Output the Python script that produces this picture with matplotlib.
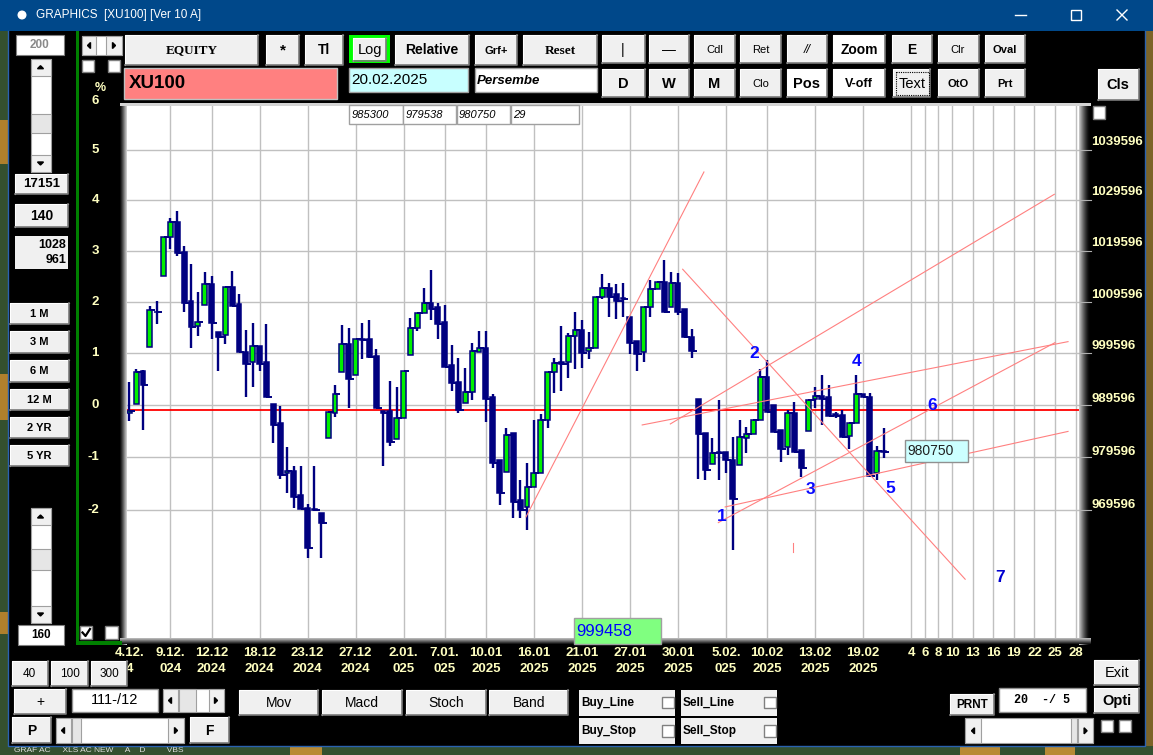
import matplotlib
matplotlib.use("Agg")
import numpy as np
import matplotlib.pyplot as plt
from matplotlib.patches import Rectangle, Circle, Polygon
from matplotlib import transforms
from matplotlib import font_manager as fm

# XU100 bars (two bars per session day), 04.12.2024 - 20.02.2025
opens = [988120, 989710, 996110, 1000700, 1007450, 1014430, 1021930, 1024990, 1019100, 1009510,
         1004750, 1008680, 1012760, 1003480, 1002900, 1012170, 1008930, 999630, 997720, 1000900,
         997720, 989770, 986120, 976700, 977190, 972580, 970170, 969980, 969240, 983280,
         988010, 995920, 1001170, 995290, 1002190, 1002250, 998980, 988500, 988500, 983090,
         987060, 999110, 1004250, 1007140, 1009070, 1008300, 1005410, 997200, 994010, 989900,
         992100, 999740, 1000400, 991150, 979200, 976890, 984230, 971710, 970350, 974080,
         976700, 986740, 995810, 997720, 997720, 1002770, 1003860, 999880, 1000510, 1010230,
         1011980, 1010810, 1010030, 1006490, 1001800, 999630, 1008410, 1011780, 1013260, 1008300,
         1012950, 1007970, 1002630, 990660, 984340, 978450, 980750, 980750, 979200, 978260,
         983280, 984090, 986740, 994970, 989580, 984850, 981580, 988120, 981070, 984720,
         990660, 991290, 991040, 987880, 987690, 983710, 986120, 991610, 991040, 976700,
         980940]
highs = [994010, 996440, 996250, 1008550, 1009510, 1022040, 1025660, 1027090, 1020220, 1016710,
         1011260, 1015150, 1014370, 1003480, 1012170, 1015350, 1010870, 1003920, 1005270, 1000900,
         1005080, 989770, 989390, 981630, 978130, 978130, 970960, 978130, 969240, 988310,
         993380, 1004890, 1004250, 1002130, 1005210, 1005850, 1000260, 988500, 994150, 993060,
         996060, 1006180, 1007140, 1011980, 1015540, 1009070, 1008740, 1001030, 998480, 996570,
         1001360, 1003730, 1003730, 991610, 979200, 985170, 984230, 975450, 978580, 986740,
         987820, 995810, 998600, 1004690, 1003290, 1007450, 1005850, 1003590, 1010230, 1014760,
         1012950, 1012820, 1012950, 1006490, 1001800, 1008410, 1013590, 1013260, 1017490, 1015090,
         1014900, 1007970, 1004120, 990660, 984340, 983280, 990520, 980750, 983580, 986740,
         985360, 986740, 996380, 998160, 989580, 984850, 988630, 990200, 981070, 990520,
         993060, 995290, 993380, 988250, 988630, 986120, 995290, 991610, 991800, 981820,
         985300]
lows = [986610, 989710, 984850, 1000700, 1005080, 1014430, 1019690, 1018260, 1007450, 1000510,
        1002820, 1008680, 1002250, 996110, 1001280, 1008550, 999630, 991150, 993060, 996110,
        991150, 982450, 975580, 973070, 970170, 969980, 960910, 969720, 960960, 983280,
        987360, 995920, 988950, 995290, 998290, 998480, 988950, 978130, 981880, 983090,
        987060, 999110, 1003790, 1007140, 1005850, 1002190, 996880, 992300, 988120, 989900,
        990520, 999740, 986420, 977640, 970780, 976890, 968310, 968310, 966140, 974080,
        976700, 985170, 991800, 992240, 994660, 996380, 996570, 998350, 1000510, 1009840,
        1006490, 1006040, 1006490, 999300, 996110, 997720, 1006370, 1011780, 1007330, 1008300,
        1006810, 1002320, 998480, 975580, 975450, 978450, 975450, 976700, 962430, 978260,
        980450, 984090, 986740, 988310, 984530, 978880, 980130, 980750, 975960, 984720,
        988950, 985790, 987500, 987120, 983580, 981200, 986120, 991040, 975960, 975450,
        979538]
closes = [988500, 995920, 993330, 1007720, 1007400, 1022040, 1024990, 1018790, 1009070, 1004560,
          1005520, 1012760, 1005210, 1002520, 1012170, 1008550, 999630, 997390, 1000900, 997390,
          991150, 985740, 976330, 977190, 972210, 969980, 962750, 969850, 967380, 988310,
          991610, 1001170, 994470, 1002130, 1001940, 998790, 988950, 988010, 982640, 987060,
          996060, 1004370, 1007140, 1009070, 1007910, 1005020, 996880, 993710, 988630, 992100,
          999880, 1000400, 990660, 978690, 973070, 983900, 971390, 969850, 974080, 976700,
          986740, 995810, 997530, 997340, 1002770, 1003860, 999440, 1000510, 1010230, 1011980,
          1010340, 1009510, 1009900, 1001360, 999250, 1008410, 1011780, 1013260, 1007450, 1013070,
          1007450, 1002630, 999930, 984090, 977320, 980560, 980560, 979200, 971840, 983470,
          984090, 986740, 994970, 988310, 984530, 981200, 988120, 980750, 977640, 990520,
          991290, 990660, 987500, 987500, 983580, 986120, 991610, 991040, 976200, 980940,
          980750]

# x axis: bar slots carrying a date label
date_idx = [0, 6, 12, 19, 26, 33, 40, 46, 52, 59, 66, 73, 80, 87, 93, 100, 107]
date_top = ['4.12.', '9.12.', '12.12', '18.12', '23.12', '27.12', '2.01.', '7.01.', '10.01',
            '16.01', '21.01', '27.01', '30.01', '5.02.', '10.02', '13.02', '19.02']
date_bottom = ['4', '024', '2024', '2024', '2024', '2024', '025', '025', '2025',
               '2025', '2025', '2025', '2025', '025', '2025', '2025', '2025']
# empty future area: one slot per calendar day after the last bar
future_days = [4, 6, 8, 10, 13, 16, 19, 22, 25, 28]
future_start = 110

base_price = 989596          # the 0 % level
pct_levels = [-2, -1, 0, 1, 2, 3, 4, 5, 6]
price_labels = [969596, 979596, 989596, 999596, 1009596, 1019596, 1029596, 1039596]
ref_level = 988600           # red horizontal line

last_vals = ['985300', '979538', '980750', '29']
cursor_val = '999458'
last_close = '980750'

# hand drawn trend lines (bar slot, price)
trend_lines = [((57.85, 968550), (83.8, 1034800)),
               ((80.7, 1015680), (121.9, 957050)),
               ((85.9, 967500), (135.0, 1001480)),
               ((86.9, 970410), (136.9, 984570)),
               ((78.9, 985980), (134.9, 1030380)),
               ((74.8, 985790), (136.9, 1001670)),
               ((96.85, 963730), (96.85, 962070))]
wave_marks = [('1', 86.4, 968610), ('2', 91.1, 999440), ('3', 99.3, 973580), ('4', 106.0, 997830),
              ('5', 111.0, 973900), ('6', 117.1, 989390), ('7', 127.0, 957420)]

names = {f.name for f in fm.fontManager.ttflist}
SANS = 'Liberation Sans' if 'Liberation Sans' in names else 'DejaVu Sans'
SERIF = 'Liberation Serif' if 'Liberation Serif' in names else 'DejaVu Serif'
MONO = 'Liberation Mono' if 'Liberation Mono' in names else 'DejaVu Sans Mono'
plt.rcParams['font.family'] = [SANS, 'DejaVu Sans']

NAVY = '#000080'
GREEN = '#00f000'
GRID = '#c0c0c0'
TICK = '#ffffc0'
BTN = '#f0f0f0'

W, H = 1153, 755
fig = plt.figure(figsize=(W / 100, H / 100), dpi=100)
fig.patch.set_facecolor('black')
bg = fig.add_axes([0, 0, 1, 1], zorder=0)
ax = fig.add_axes([127 / W, 1 - 638 / H, 952 / W, 532 / H], zorder=1)
ov = fig.add_axes([0, 0, 1, 1], zorder=2)
for a in (bg, ov):
    a.set_xlim(0, W)
    a.set_ylim(H, 0)
    a.axis('off')


def rect(x0, y0, x1, y1, fc, ec='none', lw=0.8, z=2, a=ov):
    a.add_patch(Rectangle((x0, y0), x1 - x0, y1 - y0, facecolor=fc, edgecolor=ec, lw=lw, zorder=z))


def text(x, y, s, fs=9, color='black', weight='bold', ha='center', family=None, style='normal', z=7):
    ov.text(x, y, s, fontsize=fs, color=color, fontweight=weight, ha=ha, va='center',
            family=family or SANS, fontstyle=style, zorder=z)


def button(x0, y0, x1, y1, s, fs=9, weight='bold', family=None, fc=BTN, style='normal'):
    rect(x0, y0, x1, y1, fc, z=3)
    ov.plot([x0, x0, x1], [y1, y0, y0], color='white', lw=0.8, zorder=4)
    ov.plot([x0, x1, x1], [y1, y1, y0], color='#7a7a7a', lw=1.2, zorder=4)
    text((x0 + x1) / 2, (y0 + y1) / 2 + 0.5, s, fs, weight=weight, family=family, style=style)


def tri(xc, yc, d, s=3.0):
    pts = {'up': [(xc - s, yc + s / 2), (xc + s, yc + s / 2), (xc, yc - s / 2)],
           'down': [(xc - s, yc - s / 2), (xc + s, yc - s / 2), (xc, yc + s / 2)],
           'left': [(xc + s / 2, yc - s), (xc + s / 2, yc + s), (xc - s / 2, yc)],
           'right': [(xc - s / 2, yc - s), (xc - s / 2, yc + s), (xc + s / 2, yc)]}[d]
    ov.add_patch(Polygon(pts, closed=True, color='black', zorder=6))


def checkbox(x0, y0, x1, y1, checked=False):
    rect(x0, y0, x1, y1, 'white', ec='#808080', lw=1, z=4)
    if checked:
        ov.plot([x0 + 3, x0 + 6, x1 - 2], [(y0 + y1) / 2, y1 - 3, y0 + 3], color='black', lw=1.6, zorder=5)


# ---- window, desktop strips ----
rect(0, 0, W, H, 'black', z=0, a=bg)
rect(0, 31, 8, H, '#34502e', z=1)
for y0, y1 in [(120, 164), (374, 420), (612, 634)]:
    rect(0, y0, 8, y1, '#b0802c', z=1)
rect(1146, 31, W, H, '#7d6428', z=1)
rect(0, 746, W, H, '#33502f', z=1)
for x0, x1 in [(290, 322), (960, 1000), (1045, 1075)]:
    rect(x0, 746, x1, H, '#b88a34', z=1)
ov.text(14, 751, 'GRAF AC     XLS AC NEW     A    D         VBS', fontsize=6, color='#e0e0e0',
        va='center', ha='left', zorder=2)
ov.plot([8, 8, 1145, 1145], [31, 746, 746, 31], color='#2a62b0', lw=1, zorder=2)

# title bar
rect(0, 0, W, 31, '#00488a', z=1)
ov.add_patch(Circle((22, 15), 3.8, color='white', zorder=2))
text(36, 15, 'GRAPHICS  [XU100] [Ver 10 A]', 8.5, color='white', weight='normal', ha='left')
ov.plot([1015, 1026], [15, 15], color='white', lw=1, zorder=2)
rect(1071, 10, 1081, 20, 'none', ec='white', lw=1, z=2)
ov.plot([1117, 1127], [10, 20], color='white', lw=1, zorder=2)
ov.plot([1117, 1127], [20, 10], color='white', lw=1, zorder=2)

# green frame
rect(75.5, 31, 79.3, 645, '#008000', z=2)
rect(75.5, 640.5, 122, 645, '#008000', z=2)

# ---- left panel ----
rect(16, 35, 64, 55, 'white', ec='#808080', z=3)
text(40, 45.5, '200', 8.5, color='#8a8a8a')
for y0, y1, ta, tb in [(58.7, 172, 114, 133), (508, 623, 549, 570)]:
    rect(30.5, y0, 50.5, y1, 'white', ec='#a0a0a0', z=3)
    rect(30.5, y0, 50.5, y0 + 17, BTN, ec='#a0a0a0', z=3)
    rect(30.5, y1 - 17, 50.5, y1, BTN, ec='#a0a0a0', z=3)
    rect(30.5, ta, 50.5, tb, '#e6e6e6', ec='#a0a0a0', z=3)
    tri(40.5, y0 + 8.5, 'up', 3)
    tri(40.5, y1 - 8.5, 'down', 3)
button(15, 173.5, 68, 194, '17151', 9.5)
button(15, 204, 68, 227, '140', 10)
rect(15, 236, 68, 269, BTN, z=3)
text(66, 245, '1028', 9, ha='right')
text(66, 260, '961', 9, ha='right')
for y0, s in zip([302.5, 331, 360, 388.6, 416.5, 444.5], ['1 M', '3 M', '6 M', '12 M', '2 YR', '5 YR']):
    button(10, y0, 69, y0 + 21.5, s, 8)
rect(18, 625, 64, 645, 'white', ec='#808080', z=3)
text(41, 635.5, '160', 8.5)

# top-left small scroller and checks
rect(81.5, 35.7, 121.7, 55, 'white', ec='#a0a0a0', z=3)
rect(81.5, 35.7, 96.4, 55, BTN, ec='#a0a0a0', z=3)
rect(106, 35.7, 121.7, 55, BTN, ec='#a0a0a0', z=3)
tri(89, 45.5, 'left', 3)
tri(114, 45.5, 'right', 3)
checkbox(81.5, 60, 94, 72)
checkbox(107.5, 60, 120, 72)
checkbox(79.5, 626, 92, 639, checked=True)
checkbox(105, 626, 118, 639)
text(100, 88, '%', 9, color=TICK)

# ---- top button rows ----
button(125, 35, 258.3, 65, 'EQUITY', 9.5, family=SERIF)
button(266, 35, 299.3, 65, '*', 11)
button(305, 35, 343.3, 65, 'Tl', 10)
rect(349.4, 35, 389.6, 63.3, '#00ff00', z=3)
button(353.4, 38.3, 385.8, 60.5, 'Log', 10.5, weight='normal')
button(395, 35, 468.8, 65, 'Relative', 10)
button(474.6, 35, 517.4, 65, 'Grf+', 8)
button(523, 35, 597, 65, 'Reset', 9.5, family=SERIF)

row1 = [('|', 601.5, 644.6, 10, 'normal', BTN), ('—', 648.5, 688.7, 10, 'normal', BTN),
        ('Cdl', 694.1, 734.7, 8, 'normal', BTN), ('Ret', 740, 781, 8, 'normal', BTN),
        ('//', 786.8, 827, 9, 'normal', BTN), ('Zoom', 833.4, 885.2, 10, 'bold', 'white'),
        ('E', 891.6, 931.8, 10, 'bold', BTN), ('Clr', 937.6, 978.5, 8, 'normal', BTN),
        ('Oval', 985, 1025.2, 8, 'bold', BTN)]
row2 = [('D', 601.5, 644.6, 10.5, 'bold', BTN), ('W', 648.5, 688.7, 10.5, 'bold', BTN),
        ('M', 694.1, 734.7, 10.5, 'bold', BTN), ('Clo', 740, 781, 8, 'normal', BTN),
        ('Pos', 786.8, 827, 10.5, 'bold', 'white'), ('V-off', 833.4, 885.2, 9, 'bold', 'white'),
        ('Text', 893.4, 930.4, 10.5, 'normal', BTN), ('OtO', 937.6, 978.5, 8, 'bold', BTN),
        ('Prt', 985, 1025.2, 8, 'bold', BTN)]
for s, x0, x1, fs, wt, fc in row1:
    button(x0, 35, x1, 63.3, s, fs, weight=wt, fc=fc, style='italic' if s == '//' else 'normal')
for s, x0, x1, fs, wt, fc in row2:
    button(x0, 69.3, x1, 97.3, s, fs, weight=wt, fc=fc)
ov.add_patch(Rectangle((895.5, 71.5), 33, 23.5, fill=False, ec='black', lw=0.8, ls=(0, (1, 1)), zorder=6))
button(1098, 69.3, 1138.6, 100, 'Cls', 10.5)
checkbox(1092.7, 106, 1104.5, 118.5)

# symbol, date, day
rect(124.4, 68.3, 336.8, 99.3, '#ff8080', ec='#c0c0c0', lw=1, z=3)
text(129, 83.5, 'XU100', 13.5, ha='left')
rect(349.4, 68.3, 467.7, 91.7, '#c8ffff', ec='#a0a0a0', lw=1, z=3)
text(351, 80.5, '20.02.2025', 11, weight='normal', ha='left')
rect(474.6, 68.3, 597, 91.7, 'white', ec='#a0a0a0', lw=1, z=3)
text(477, 80.5, 'Persembe', 9.5, ha='left', style='italic')
for (x0, x1), s in zip([(349.4, 402.5), (403.3, 455.8), (456.6, 510), (511, 578.6)], last_vals):
    rect(x0, 105, x1, 124, 'white', ec='#a0a0a0', lw=1, z=5)
    text(x0 + 2, 115, s, 8, weight='normal', ha='left', style='italic')

# ---- bottom controls ----
button(11.5, 661, 47.8, 686, '40', 8.5, weight='normal')
button(51, 661, 88, 686, '100', 8.5, weight='normal')
button(91, 661, 127.4, 686, '300', 8.5, weight='normal')
button(14.2, 689.3, 65.8, 714.3, '+', 10, weight='normal')
rect(71.6, 688.7, 158, 711.7, 'white', ec='#909090', lw=1, z=3)
text(115, 700.5, '111-/12', 10.5, weight='normal')
rect(162.6, 689, 224, 712, 'white', ec='#a0a0a0', z=3)
rect(162.6, 689, 178, 712, BTN, ec='#a0a0a0', z=3)
rect(208.6, 689, 224, 712, BTN, ec='#a0a0a0', z=3)
rect(179, 689, 196, 712, '#e6e6e6', ec='#a0a0a0', z=3)
tri(170, 700.5, 'left', 3)
tri(216, 700.5, 'right', 3)
button(11.5, 717.3, 51, 743.3, 'P', 10)
rect(55.5, 718, 183.7, 743, 'white', ec='#a0a0a0', z=3)
rect(55.5, 718, 70.8, 743, BTN, ec='#a0a0a0', z=3)
rect(168.4, 718, 183.7, 743, BTN, ec='#a0a0a0', z=3)
rect(72, 718, 81, 743, '#e6e6e6', ec='#a0a0a0', z=3)
tri(63, 730.5, 'left', 3)
tri(176, 730.5, 'right', 3)
button(189.8, 717.3, 228.9, 743.3, 'F', 10)
for s, x0, x1 in [('Mov', 239.2, 318.4), ('Macd', 321.9, 401.8), ('Stoch', 406.4, 486), ('Band', 489, 568.3)]:
    button(x0, 690, x1, 715, s, 10, weight='normal')
for s, x0, y0 in [('Buy_Line', 578.9, 690), ('Sell_Line', 681, 690), ('Buy_Stop', 578.9, 718.3),
                  ('Sell_Stop', 681, 718.3)]:
    rect(x0, y0, x0 + 95.7, y0 + 25.7, BTN, z=3)
    text(x0 + 2, y0 + 13, s, 8.5, ha='left')
    checkbox(x0 + 83, y0 + 6.7, x0 + 95, y0 + 18.3)
button(949.6, 694, 994.2, 715, 'PRNT', 8.5)
rect(998.7, 688.3, 1085.7, 711.7, 'white', ec='#909090', lw=1, z=3)
text(1042, 700, '20  -/ 5', 8.5, family=MONO)
button(1094.4, 660, 1139.4, 685, 'Exit', 10.5, weight='normal')
button(1094.4, 688.3, 1139.4, 713.3, 'Opti', 10.5)
rect(965.4, 718.3, 1093.3, 743.3, 'white', ec='#a0a0a0', z=3)
rect(965.4, 718.3, 980.6, 743.3, BTN, ec='#a0a0a0', z=3)
rect(1078, 718.3, 1093.3, 743.3, BTN, ec='#a0a0a0', z=3)
rect(1070.6, 718.3, 1077.4, 743.3, '#e6e6e6', ec='#a0a0a0', z=3)
tri(973, 730.8, 'left', 3)
tri(1085.6, 730.8, 'right', 3)
checkbox(1100.8, 720, 1113, 731.7)
checkbox(1118.6, 720, 1131, 731.7)

# ---- chart frame bevels ----
for k, c in enumerate(['#101010', '#2a2a2a', '#474747', '#666666', '#888888', '#a8a8a8', '#c8c8c8']):
    rect(120 + k, 103, 121 + k, 645, c, z=1)
for k, c in enumerate(['#c4c4c4', '#aaaaaa', '#929292', '#7a7a7a', '#636363', '#4e4e4e', '#3a3a3a',
                       '#282828', '#181818', '#0c0c0c', '#050505', '#000000']):
    rect(1079 + k, 103, 1080 + k, 645, c, z=1)
rect(120, 103, 1091, 106, '#d4d4d4', z=1)
for k, c in enumerate(['#b4b4b4', '#9a9a9a', '#7a7a7a', '#5a5a5a', '#3a3a3a', '#1a1a1a']):
    rect(120, 638 + k, 1091, 639 + k, c, z=1)

# ---- price chart ----
o, h, l, c = map(np.array, (opens, highs, lows, closes))
x = np.arange(len(o))
up = c > o
ax.set_facecolor('white')
ax.set_yscale('log')
ax.set_xlim(-0.335, 138.5)
ax.set_ylim(946320, 1047980)
for s in ax.spines.values():
    s.set_visible(False)
ax.set_xticks([])
ax.set_yticks([])
ax.yaxis.set_minor_locator(matplotlib.ticker.NullLocator())

fut_idx = [future_start + d for d in future_days]
for xi in date_idx[1:] + fut_idx:
    ax.axvline(xi, color=GRID, lw=1, zorder=1)
for k in pct_levels:
    ax.axhline(base_price * (1 + k / 100), color=GRID, lw=1, zorder=1)
ax.axhline(ref_level, color='#ff0000', lw=1.3, zorder=2)

ax.vlines(x, l, h, color=NAVY, lw=1.7, zorder=4)
for xi, oi, ci, u in zip(x, o, c, up):
    lo, hi = min(oi, ci), max(oi, ci)
    ax.add_patch(Rectangle((xi - 0.36, lo), 0.72, hi - lo, facecolor=GREEN if u else NAVY,
                           edgecolor=NAVY, lw=1.1, zorder=5))
ax.hlines(c, x, x + 0.8, color=NAVY, lw=1.4, zorder=5)

for (x0, p0), (x1, p1) in trend_lines:
    ax.plot([x0, x1], [p0, p1], color='#ff8080', lw=0.8, zorder=6)
for s, xi, p in wave_marks:
    ax.text(xi, p, s, color='#0a0aff' if s != '7' else '#0000d0', fontsize=12.5, fontweight='bold',
            ha='center', va='center', zorder=7)

# value boxes laid over the chart
rect(904.8, 440, 968.4, 461.7, '#ccffff', ec='#909090', lw=1, z=5)
text(907, 451, last_close, 10, color='#202020', weight='normal', ha='left')
rect(574.4, 618.3, 661, 644, '#80ff80', ec='#a0a0a0', lw=1, z=5)
text(576, 631.5, cursor_val, 12, color='#0000ff', weight='normal', ha='left')

# ---- axis labels ----
bx = transforms.blended_transform_factory(ax.transData, ov.transData)
by = transforms.blended_transform_factory(ov.transData, ax.transData)
for xi, t, b in zip(date_idx, date_top, date_bottom):
    ov.text(xi, 653, t, transform=bx, fontsize=9.5, fontweight='bold', color=TICK,
            ha='center', va='center', zorder=2)
    ov.text(xi, 669, b, transform=bx, fontsize=9.5, fontweight='bold', color=TICK,
            ha='center', va='center', zorder=2)
for xi, d in zip(fut_idx, future_days):
    ov.text(xi, 653, str(d), transform=bx, fontsize=9.5, fontweight='bold', color=TICK,
            ha='center', va='center', zorder=2)
for k in pct_levels:
    ov.text(99, base_price * (1 + k / 100), str(k), transform=by, fontsize=9.5, fontweight='bold',
            color=TICK, ha='right', va='center', zorder=2)
for p in price_labels:
    ov.text(1091, p, str(p), transform=by, fontsize=9.5, fontweight='bold', color=TICK,
            ha='left', va='bottom', zorder=2)
for k in pct_levels[:-1]:
    ov.plot([1079, 1091], [base_price * (1 + k / 100)] * 2, transform=by, color='#b0b0b0',
            lw=0.8, zorder=2)

fig.savefig('out.png', dpi=100, facecolor='black')
